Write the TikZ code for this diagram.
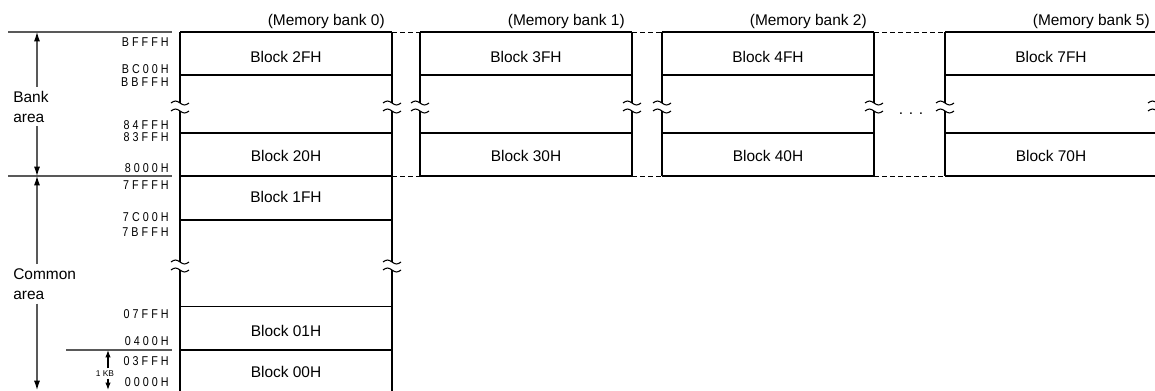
\documentclass[tikz,border=0pt]{standalone}
\usepackage{fontspec}
\setmainfont{Liberation Sans}
\newfontfamily\addrfont[LetterSpace=24,FakeStretch=0.84]{Liberation Sans}
\usetikzlibrary{arrows.meta}
\tikzset{
  banktext/.style={font=\fontsize{11.6}{15}\selectfont, inner sep=0pt},
  addr/.style={font=\addrfont\fontsize{9.6}{10}\selectfont, anchor=east, inner sep=0pt},
  boxline/.style={line width=1.4pt},
  divline/.style={line width=0.8pt},
  guide/.style={line width=0.8pt, black!65},
  link/.style={line width=0.7pt, dash pattern=on 3.5pt off 2.5pt},
  span/.style={guide, -{Latex[length=7pt,width=4.5pt,color=black]}},
  kbspan/.style={guide, black, -{Latex[length=5.5pt,width=4pt]}},
}
% break mark across a vertical border
\newcommand{\brkmark}[2]{%
  \begin{scope}[shift={(#1,#2)}]
    \draw[divline] (-9,-4) sin (-4.5,-6) cos (0,-4) sin (4.5,-2) cos (9,-4);
    \draw[divline] (-9,4) sin (-4.5,2) cos (0,4) sin (4.5,6) cos (9,4);
  \end{scope}}

\begin{document}
\begin{tikzpicture}[x=0.75pt, y=-0.75pt]
  \useasboundingbox (0,0) rectangle (1155,390);

  % bank area of each memory bank
  \foreach \lx/\bk/\tp/\bt in {180/0/2FH/20H, 420/1/3FH/30H, 662/2/4FH/40H, 945/5/7FH/70H}{
    \pgfmathsetmacro{\rx}{\lx+212}
    \pgfmathsetmacro{\cx}{\lx+106}
    \draw[boxline] (\lx,32) -- (\rx,32) (\lx,176) -- (\rx,176);
    \draw[boxline] (\lx,32) -- (\lx,103) (\lx,111) -- (\lx,176);
    \draw[boxline] (\rx,32) -- (\rx,103) (\rx,111) -- (\rx,176);
    \draw[divline] (\lx,75) -- (\rx,75) (\lx,133) -- (\rx,133);
    \brkmark{\lx}{107}
    \brkmark{\rx}{107}
    \node[banktext] (top\bk) at (\cx,57) {Block \tp};
    \node[banktext] (bot\bk) at (\cx,156) {Block \bt};
    \node[banktext, anchor=base east] (bank\bk) at (\rx-7,25.5) {(Memory bank \bk)};
  }
  \draw[link] (392,32) -- (420,32) (632,32) -- (662,32) (874,32) -- (945,32);
  \draw[link] (392,176) -- (420,176) (632,176) -- (662,176) (874,176) -- (945,176);
  \node[banktext, anchor=base] (dots) at (911,114.5) {. . .};

  % common area (bank 0 only)
  \draw[boxline] (180,176) -- (180,262) (180,270) -- (180,396);
  \draw[boxline] (392,176) -- (392,262) (392,270) -- (392,396);
  \draw[divline] (180,220) -- (392,220) (180,306.5) -- (392,306.5) (180,350) -- (392,350);
  \brkmark{180}{266}
  \brkmark{392}{266}
  \node[banktext] (blk1F) at (286,196.7) {Block 1FH};
  \node[banktext] (blk01) at (286,331) {Block 01H};
  \node[banktext] (blk00) at (286,371.7) {Block 00H};

  % addresses
  \foreach \y/\txt in {41.7/BFFFH, 69.3/BC00H, 81.7/BBFFH, 125.3/84FFH, 137.4/83FFH,
      168.3/8000H, 185/7FFFH, 216.7/7C00H, 232.3/7BFFH, 314/07FFH,
      340.7/0400H, 361/03FFH, 382.3/0000H}
    \node[addr] (a\txt) at (169,\y) {\txt};

  % area ranges on the left
  \draw[guide] (8,32) -- (172,32) (8,176) -- (172,176) (66,350) -- (172,350);
  \coordinate (atop) at (37,32);
  \coordinate (amid) at (37,176);
  \coordinate (abot) at (37,390);
  \node[banktext, align=left, anchor=west, inner sep=3pt] (bankarea) at (9,106.5) {Bank\\area};
  \node[banktext, align=left, anchor=west, inner sep=3pt] (commonarea) at (9,283.8) {Common\\area};
  \draw[span] (atop |- bankarea.north) -- (atop);
  \draw[span] (atop |- bankarea.south) -- (amid);
  \draw[span] (atop |- commonarea.north) -- (amid);
  \draw[span] (atop |- commonarea.south) -- (abot);

  \coordinate (kbtop) at (108,350);
  \coordinate (kbbot) at (108,390);
  \node[font=\fontsize{6.3}{7}\selectfont, inner sep=1.5pt] (kb) at (105,373.5) {1 KB};
  \draw[kbspan] (kbtop |- kb.north) -- (kbtop);
  \draw[kbspan] (kbtop |- kb.south) -- (kbbot);
\end{tikzpicture}
\end{document}
